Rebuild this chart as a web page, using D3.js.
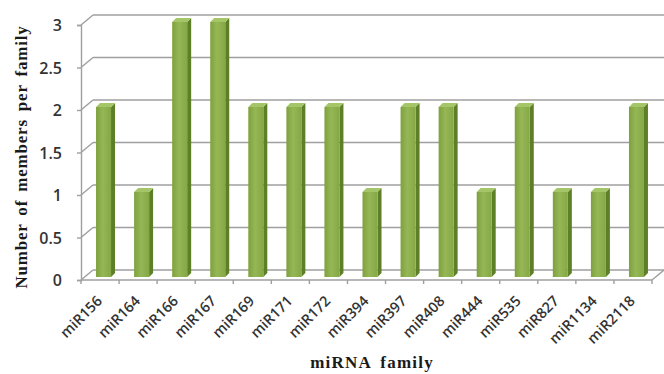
<!DOCTYPE html>
<html>
<head>
<meta charset="utf-8">
<script src="https://cdn.jsdelivr.net/npm/d3@7"></script>
<style>
  html, body { margin: 0; padding: 0; background: #fff; }
  svg { display: block; }
</style>
</head>
<body>
<svg id="chart" width="664" height="374"></svg>
<script>
const categories = ["miR156","miR164","miR166","miR167","miR169","miR171","miR172","miR394","miR397","miR408","miR444","miR535","miR827","miR1134","miR2118"];
const values = [2,1,3,3,2,2,2,1,2,2,1,2,1,1,2];
const yTicks = [0,0.5,1,1.5,2,2.5,3];
const yTickLabels = ["0","0.5","1","1.5","2","2.5","3"];
const xTitle = "miRNA family";
const yTitle = "Number of members per family";

(function () {
const svg = d3.select("#chart");
const mLeft = 81, mRight = 652, mBottom = 280, mTop = 25;
const dx = 12, dy = -10;       // depth offset of the back wall
const bd = 3;                  // bar front depth
const sideW = 4;               // bar side depth
const gridColor = "#9f9f9f";

const x = d3.scaleBand().domain(categories).range([mLeft, mRight]).paddingInner(0).paddingOuter(0);
const y = d3.scaleLinear().domain([0, 3]).range([mBottom, mTop]);

const defs = svg.append("defs");
const grad = defs.append("linearGradient").attr("id", "front").attr("x1", "0").attr("x2", "1").attr("y1", "0").attr("y2", "0");
grad.append("stop").attr("offset", "0%").attr("stop-color", "#7fa03d");
grad.append("stop").attr("offset", "45%").attr("stop-color", "#95b756");
grad.append("stop").attr("offset", "100%").attr("stop-color", "#85a744");

const g = svg.append("g");

// back wall gridlines + left connectors
yTicks.forEach(t => {
  const yy = y(t);
  g.append("line").attr("x1", mLeft + dx).attr("x2", mRight + dx).attr("y1", yy + dy).attr("y2", yy + dy)
    .attr("stroke", gridColor).attr("stroke-width", 1.4);
  g.append("line").attr("x1", mLeft).attr("x2", mLeft + dx).attr("y1", yy).attr("y2", yy + dy)
    .attr("stroke", gridColor).attr("stroke-width", 1.4);
});
// floor front edge and right edge
g.append("line").attr("x1", mLeft).attr("x2", mRight).attr("y1", y(0)).attr("y2", y(0))
  .attr("stroke", gridColor).attr("stroke-width", 1.4);
g.append("line").attr("x1", mRight).attr("x2", mRight + dx).attr("y1", y(0)).attr("y2", y(0) + dy)
  .attr("stroke", gridColor).attr("stroke-width", 1.4);

// y axis
const yAxis = d3.axisLeft(y).tickValues(yTicks).tickFormat((d, i) => yTickLabels[i]).tickSize(4).tickPadding(15);
const ya = svg.append("g").attr("transform", `translate(${mLeft},0)`).call(yAxis);
ya.select(".domain").attr("stroke", gridColor).attr("stroke-width", 1.4);
ya.selectAll(".tick line").attr("stroke", gridColor).attr("stroke-width", 1.4);
ya.selectAll(".tick text").attr("font-family", "'Open Sans', sans-serif").attr("font-size", 16)
  .attr("font-weight", 600).attr("fill", "#333").attr("dy", "0.36em");

// x axis ticks (between categories)
const step = x.step();
const xt = d3.range(categories.length + 1).map(i => mLeft + i * step);
g.selectAll(".xtick").data(xt).enter().append("line")
  .attr("x1", d => d).attr("x2", d => d).attr("y1", y(0)).attr("y2", y(0) + 4)
  .attr("stroke", gridColor).attr("stroke-width", 1.4);

// bars
const bw = 15;
const bars = g.selectAll(".bar").data(categories.map((c, i) => ({c, v: values[i]}))).enter().append("g");
bars.each(function(d) {
  const sel = d3.select(this);
  const x0 = x(d.c) + step / 2 + 3.5 - bw / 2;
  const yt = y(d.v) - bd, yb = y(0) - bd;
  sel.append("path").attr("d", `M${x0 + bw},${yt} L${x0 + bw + sideW},${yt - sideW} L${x0 + bw + sideW},${yb - sideW} L${x0 + bw},${yb} Z`)
    .attr("fill", "#5d7f27");
  sel.append("path").attr("d", `M${x0},${yt} L${x0 + sideW},${yt - sideW} L${x0 + bw + sideW},${yt - sideW} L${x0 + bw},${yt} Z`)
    .attr("fill", "#a4c568");
  sel.append("rect").attr("x", x0).attr("y", yt).attr("width", bw).attr("height", yb - yt)
    .attr("fill", "url(#front)");
});

// x labels
svg.selectAll(".xlab").data(categories).enter().append("text")
  .attr("transform", d => `translate(${x(d) + step / 2 + 3},${302}) rotate(-45)`)
  .attr("text-anchor", "end")
  .attr("font-family", "'Open Sans', sans-serif").attr("font-size", 14.5).attr("font-weight", 600)
  .attr("fill", "#333")
  .text(d => d);

// axis titles
svg.append("text").attr("x", 372).attr("y", 368).attr("text-anchor", "middle")
  .attr("font-family", "'Liberation Serif', 'Times New Roman', serif").attr("font-weight", "bold")
  .attr("font-size", 17).attr("letter-spacing", 1.2).attr("word-spacing", 4).attr("fill", "#1a1a1a")
  .text(xTitle);
svg.append("text").attr("transform", "translate(27,157) rotate(-90)").attr("text-anchor", "middle")
  .attr("font-family", "'Liberation Serif', 'Times New Roman', serif").attr("font-weight", "bold")
  .attr("font-size", 17).attr("letter-spacing", 0.8).attr("word-spacing", 3).attr("fill", "#1a1a1a")
  .text(yTitle);
})();
</script>
</body>
</html>
